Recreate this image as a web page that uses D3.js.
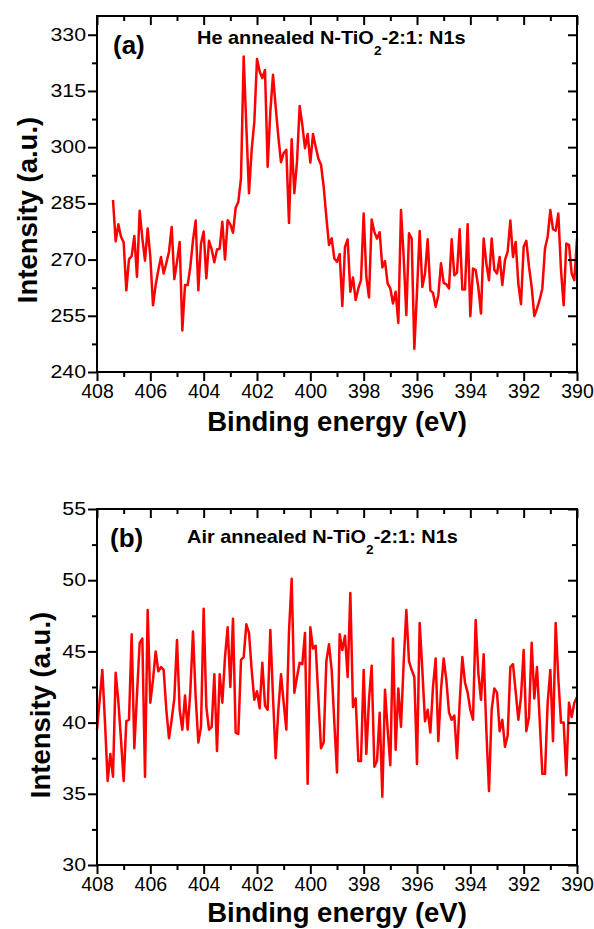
<!DOCTYPE html>
<html>
<head>
<meta charset="utf-8">
<script src="https://cdn.jsdelivr.net/npm/d3@7"></script>
<style>
  html, body { margin: 0; padding: 0; background: #fff; }
  svg { display: block; font-family: "Liberation Sans", Arial, Helvetica, sans-serif; }
</style>
</head>
<body>
<svg id="chart" width="594" height="929"></svg>
<script>
// Binding-energy axis (eV), shared by both panels
const energyTicks = [408, 406, 404, 402, 400, 398, 396, 394, 392, 390];
const energyMinorTicks = [407, 405, 403, 401, 399, 397, 395, 393, 391];
const energyStep = 0.1;

// Panel (a): He annealed sample
const heTicks = [240, 255, 270, 285, 300, 315, 330];
const heMinorTicks = [247.5, 262.5, 277.5, 292.5, 307.5, 322.5];
const heStartEnergy = 407.4;
const heIntensity = [
  285.9, 274.9, 279.4, 276.1, 274.6, 261.8, 270.1, 270.9, 276.3, 265.4,
  283.0, 275.7, 269.7, 278.3, 270.7, 257.8, 263.2, 267.2, 270.7, 266.3,
  269.1, 272.1, 278.7, 264.8, 269.4, 274.7, 251.1, 263.2, 263.2, 268.1,
  275.2, 280.4, 261.8, 274.3, 277.5, 265.0, 275.0, 272.7, 269.3, 272.7,
  272.9, 280.1, 270.0, 280.5, 279.4, 277.2, 283.8, 285.4, 291.7, 324.2,
  305.5, 287.7, 299.3, 306.8, 323.5, 320.2, 318.4, 320.6, 294.8, 309.5,
  319.3, 310.8, 302.8, 296.0, 298.4, 299.3, 279.8, 302.1, 287.7, 296.1,
  311.0, 305.9, 299.7, 303.5, 295.9, 303.5, 300.1, 297.0, 295.3, 289.5,
  281.4, 273.9, 275.7, 270.3, 269.4,
  271.5, 257.6, 273.4, 275.4, 261.4, 265.2, 259.2, 262.3, 264.5, 282.3,
  265.4, 259.9, 280.7, 277.4, 275.6, 277.3, 267.9, 269.6, 263.6, 262.3,
  258.3, 261.4, 253.1, 283.2, 270.7, 255.2, 277.0, 275.6, 246.2, 261.4,
  277.6, 262.7, 266.3, 275.4, 261.8, 261.1, 257.4, 260.5, 269.0, 263.8,
  263.4, 262.3, 275.4, 265.8, 266.5, 278.1, 262.0, 262.0, 279.4, 254.9,
  267.6, 267.2, 262.6, 255.6, 275.6, 269.0, 264.5, 275.6, 267.2, 266.3,
  270.7, 263.2, 269.9, 272.1, 280.4, 270.7, 274.7, 263.6, 258.1, 273.4,
  275.0, 268.1, 262.7, 254.9, 256.9, 259.3, 262.3, 273.0, 276.1, 283.2,
  278.1, 277.7, 282.3, 267.2, 257.8, 274.3, 273.9, 266.3, 264.5, 275.6
];

// Panel (b): Air annealed sample
const airTicks = [30, 35, 40, 45, 50, 55];
const airMinorTicks = [32.5, 37.5, 42.5, 47.5, 52.5];
const airStartEnergy = 408.0;
const airIntensity = [
  39.5, 41.6, 43.7, 40.0, 35.9, 37.8, 36.2, 43.5, 41.5, 38.8,
  35.9, 40.1, 40.2, 46.2, 38.2, 42.0, 45.6, 45.9, 36.2, 47.9,
  41.4, 43.0, 45.0, 43.6, 43.9, 43.7, 40.9, 38.9, 40.2, 41.7,
  45.8, 40.9, 39.5, 41.9, 39.5, 42.2, 46.4, 41.8, 38.6, 39.7,
  48.0, 41.1, 39.5, 39.7, 43.4, 38.0, 43.4, 41.4, 44.6, 46.7,
  42.5, 47.3, 39.3, 39.2, 44.4, 44.6, 46.9, 46.3, 43.7, 41.6,
  42.2, 41.0, 44.2, 41.2, 40.9, 46.5, 41.8, 37.5, 40.9, 43.4,
  41.4, 39.5, 46.4, 50.1, 42.1, 43.2, 44.2, 44.1, 46.3, 35.7,
  46.7, 45.2, 45.4, 41.8, 38.2, 38.6, 44.3, 45.5, 43.7, 40.0,
  36.5,
  46.2, 45.1, 46.1, 43.2, 49.1, 41.1, 41.7, 37.3, 37.3, 43.7,
  37.8, 41.6, 44.0, 36.9, 37.3, 40.7, 34.8, 42.3, 39.5, 37.0,
  45.9, 38.1, 42.4, 39.7, 44.2, 47.9, 44.3, 43.7, 43.2, 37.1,
  47.0, 43.7, 40.1, 40.9, 39.3, 42.5, 44.5, 38.7, 42.3, 44.5,
  43.0, 40.7, 40.2, 40.5, 37.5, 41.4, 44.6, 42.8, 42.1, 40.9,
  40.2, 47.2, 43.5, 41.6, 44.8, 39.5, 35.2, 40.9, 42.4, 42.1,
  39.4, 40.2, 38.3, 39.1, 43.9, 44.1, 42.2, 40.2, 41.8, 45.1,
  39.4, 40.4, 45.6, 41.7, 43.9, 40.2, 36.4, 36.4, 41.4, 43.7,
  38.7, 47.0, 43.1, 40.0, 40.0, 36.3, 41.4, 40.4, 41.4, 41.8
];

const svg = d3.select("#chart");
const plotLeft = 97, plotRight = 577;
const x = d3.scaleLinear().domain([408, 390]).range([plotLeft, plotRight]);

function drawPanel(cfg) {
  const y = d3.scaleLinear().domain(cfg.domain).range([cfg.bottom, cfg.top]);
  const g = svg.append("g");

  // spectrum
  const pts = cfg.values.map((v, i) => [cfg.start - i * energyStep, v]);
  g.append("path")
    .datum(pts)
    .attr("fill", "none")
    .attr("stroke", "#ff0000")
    .attr("stroke-width", 2.5)
    .attr("stroke-linejoin", "round")
    .attr("d", d3.line().x(d => x(d[0])).y(d => y(d[1])));

  const styleTicks = sel => {
    sel.select(".domain").remove();
    sel.selectAll(".tick line").attr("stroke", "#000").attr("stroke-width", 2);
  };

  // bottom axis with labels
  const bx = g.append("g").attr("transform", `translate(0,${cfg.bottom})`)
    .call(d3.axisBottom(x).tickValues(energyTicks).tickSize(9).tickPadding(3).tickFormat(d3.format("d")));
  styleTicks(bx);
  bx.selectAll(".tick text").attr("font-size", 19.5).attr("fill", "#000")
    .attr("font-family", "'Liberation Sans', Arial, sans-serif");
  g.append("g").attr("transform", `translate(0,${cfg.bottom})`)
    .call(d3.axisBottom(x).tickValues(energyMinorTicks).tickSize(5).tickFormat(""))
    .call(styleTicks);

  // top mirror axis, inward ticks
  g.append("g").attr("transform", `translate(0,${cfg.top})`)
    .call(d3.axisTop(x).tickValues(energyTicks).tickSize(-9).tickFormat(""))
    .call(styleTicks);
  g.append("g").attr("transform", `translate(0,${cfg.top})`)
    .call(d3.axisTop(x).tickValues(energyMinorTicks).tickSize(-5).tickFormat(""))
    .call(styleTicks);

  // left axis with labels
  const ly = g.append("g").attr("transform", `translate(${plotLeft},0)`)
    .call(d3.axisLeft(y).tickValues(cfg.ticks).tickSize(9).tickPadding(2).tickFormat(d3.format("d")));
  styleTicks(ly);
  ly.selectAll(".tick text").attr("font-size", 17.5).attr("fill", "#000")
    .attr("font-family", "'Liberation Sans', Arial, sans-serif")
    .attr("x", -11 / 1.22)
    .attr("transform", "scale(1.22,1)");
  g.append("g").attr("transform", `translate(${plotLeft},0)`)
    .call(d3.axisLeft(y).tickValues(cfg.minor).tickSize(5).tickFormat(""))
    .call(styleTicks);

  // right mirror axis, inward ticks
  g.append("g").attr("transform", `translate(${plotRight},0)`)
    .call(d3.axisRight(y).tickValues(cfg.ticks).tickSize(-9).tickFormat(""))
    .call(styleTicks);
  g.append("g").attr("transform", `translate(${plotRight},0)`)
    .call(d3.axisRight(y).tickValues(cfg.minor).tickSize(-5).tickFormat(""))
    .call(styleTicks);

  // frame
  g.append("rect")
    .attr("x", plotLeft).attr("y", cfg.top)
    .attr("width", plotRight - plotLeft).attr("height", cfg.bottom - cfg.top)
    .attr("fill", "none").attr("stroke", "#000").attr("stroke-width", 2);

  // panel letter
  g.append("text")
    .attr("x", cfg.letterX).attr("y", cfg.letterY)
    .attr("font-size", 26).attr("font-weight", "bold")
    .text(cfg.letter);

  // sample caption with TiO2 subscript
  const cap = g.append("text")
    .attr("transform", `translate(${cfg.capX},${cfg.capY}) scale(1.14,1)`)
    .attr("font-size", 17.5).attr("font-weight", "bold");
  cap.append("tspan").text(cfg.capLead + " N-TiO");
  cap.append("tspan").attr("font-size", 12).attr("dy", 11).text("2");
  cap.append("tspan").attr("dy", -11).text("-2:1: N1s");

  // axis titles
  g.append("text")
    .attr("x", (plotLeft + plotRight) / 2).attr("y", cfg.xTitleY)
    .attr("text-anchor", "middle")
    .attr("font-size", 27.5).attr("font-weight", "bold")
    .text("Binding energy (eV)");
  g.append("text")
    .attr("transform", `translate(${cfg.yTitleX},${cfg.yTitleY}) rotate(-90)`)
    .attr("text-anchor", "middle")
    .attr("font-size", 27.5).attr("font-weight", "bold")
    .text("Intensity (a.u.)");
}

drawPanel({
  top: 16, bottom: 372, domain: [240, 335],
  ticks: heTicks, minor: heMinorTicks,
  start: heStartEnergy, values: heIntensity,
  letter: "(a)", letterX: 113, letterY: 54,
  capLead: "He annealed", capX: 197, capY: 44,
  xTitleY: 431, yTitleX: 37, yTitleY: 210
});

drawPanel({
  top: 509, bottom: 865, domain: [30, 55],
  ticks: airTicks, minor: airMinorTicks,
  start: airStartEnergy, values: airIntensity,
  letter: "(b)", letterX: 110, letterY: 547,
  capLead: "Air annealed", capX: 187, capY: 543,
  xTitleY: 922, yTitleX: 50, yTitleY: 705
});
</script>
</body>
</html>
